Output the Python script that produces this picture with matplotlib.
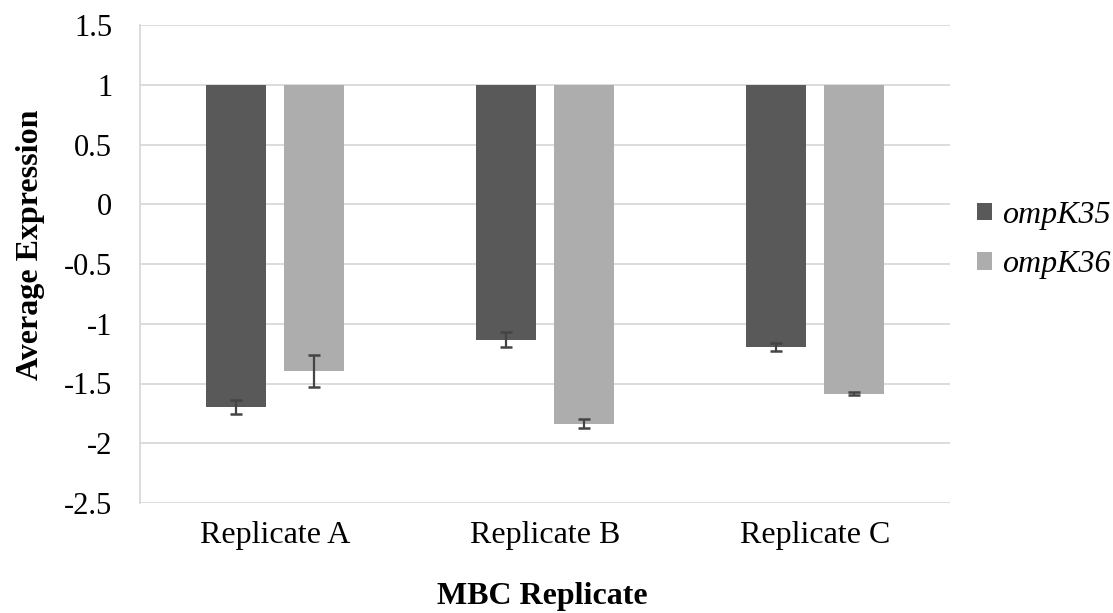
import numpy as np
import matplotlib.pyplot as plt

plt.rcParams['font.family'] = ['Liberation Serif', 'DejaVu Serif']

categories = ['Replicate A', 'Replicate B', 'Replicate C']
genes = ['ompK35', 'ompK36']
ompK35 = [-1.695, -1.133, -1.195]
ompK36 = [-1.395, -1.835, -1.585]
ompK35_err = [0.06, 0.065, 0.035]
ompK36_err = [0.135, 0.04, 0.012]
baseline = 1.0
yticks = [1.5, 1, 0.5, 0, -0.5, -1, -1.5, -2, -2.5]

fig = plt.figure(figsize=(11.13, 6.13), dpi=100)
ax = fig.add_axes([140/1113, 110/613, 810/1113, 478/613])

x = np.arange(len(categories))
w = 0.222
off = 0.143
cols = ['#595959', '#ADADAD']
for vals, errs, sign, col, lab in [(ompK35, ompK35_err, -1, cols[0], genes[0]),
                                   (ompK36, ompK36_err, 1, cols[1], genes[1])]:
    vals = np.array(vals)
    ax.bar(x + sign*off, vals - baseline, width=w, bottom=baseline,
           color=col, label=lab, zorder=2)
    ax.errorbar(x + sign*off, vals, yerr=errs, fmt='none', ecolor='#444444',
                elinewidth=1.6, capsize=4, capthick=1.8, zorder=3)

ax.set_xlim(-0.5, 2.5)
ax.set_ylim(-2.5, 1.5)
ax.set_yticks(yticks)
ax.set_yticklabels([('%g' % t) for t in yticks])
ax.set_xticks(x)
ax.set_xticklabels(categories)
ax.tick_params(axis='both', length=0)
ax.tick_params(axis='x', labelsize=23, pad=13)
ax.tick_params(axis='y', labelsize=22, pad=20)
ax.grid(axis='y', color='#D9D9D9', linewidth=1.3, zorder=0)
ax.set_axisbelow(True)
for s in ['top', 'right', 'bottom']:
    ax.spines[s].set_visible(False)
ax.spines['left'].set_color('#D9D9D9')
ax.spines['left'].set_linewidth(1.3)

ax.set_ylabel('Average Expression', fontsize=23, fontweight='bold')
ax.yaxis.set_label_coords(-0.117, 0.54)
ax.set_xlabel('MBC Replicate', fontsize=23, fontweight='bold')
ax.xaxis.set_label_coords(0.497, -0.165)

leg = fig.legend(loc='center left', bbox_to_anchor=(0.878, 0.6085), frameon=False,
                 prop={'size': 23, 'style': 'italic'}, handlelength=0.47,
                 handleheight=0.47, handletextpad=0.3, labelspacing=0.64,
                 borderpad=0, borderaxespad=0)

fig.savefig('out.png', dpi=100)
